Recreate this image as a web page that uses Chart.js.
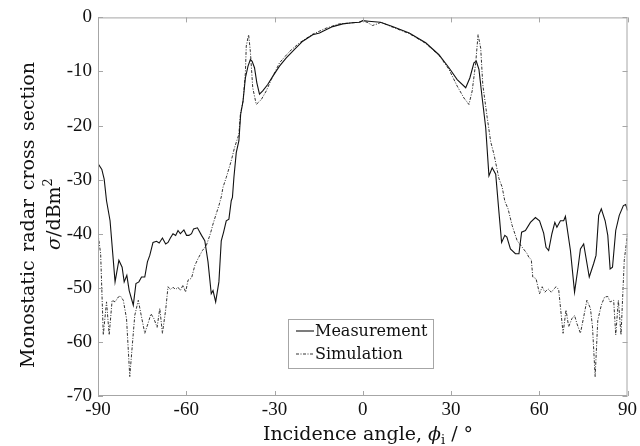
<!DOCTYPE html>
<html lang="en">
<head>
<meta charset="UTF-8" />
<title>Monostatic RCS</title>
<script src="https://cdn.jsdelivr.net/npm/chart.js"></script>
<style>
  body { margin: 0; background: #fff; }
  canvas { display: block; }
</style>
</head>
<body>
<canvas id="rcsChart" width="640" height="446"></canvas>
<script>
// angles in degrees, values in dBm^2
const measAngle = [-90, -88.7, -87.9, -87.1, -85.9, -84.2, -82.9, -81.8, -81.1, -80.2, -79.4, -78.0, -77.1, -76.1, -75.2, -74.1,
  -73.2, -72.4, -71.3, -70.1, -69.2, -68.1, -67.0, -66.2, -65.4, -64.5, -63.6, -62.8, -62.0, -60.8, -59.9, -59.1,
  -58.2, -57.5, -56.2, -54.8, -53.7, -52.6, -51.5, -50.9, -50.0, -48.9, -48.1, -47.3, -46.4, -45.5, -44.7, -44.3,
  -43.8, -43.0, -42.1, -41.5, -40.7, -39.9, -39.0, -38.2, -37.6, -36.8, -36.0, -35.1, -34.0, -32.3, -30.6, -28.3,
  -26.0, -23.2, -20.4, -17.0, -14.7, -12.5, -10.2, -6.8, -3.5, -1.2, 0, 2, 4, 6,
  10.1, 15.8, 21.4, 25.9, 29.3, 32.1, 35.0, 36.4, 37.8, 38.6, 39.5, 40.6, 41.8, 42.9, 44.0, 45.2,
  46.3, 47.2, 48.3, 49.0, 50.2, 51.9, 53.1, 54.0, 55.3, 57.0, 58.7, 60.1, 61.5, 62.3, 63.2, 64.3,
  65.3, 66.0, 67.2, 68.3, 68.9, 70.6, 72.0, 73.2, 74.0, 75.1, 77.0, 78.5, 79.3, 80.2, 81.1, 82.4,
  83.3, 84.1, 84.9, 86.0, 87.2, 88.6, 89.4, 90];
const measValue = [-27.0, -28.1, -29.9, -33.9, -37.6, -48.9, -44.9, -46.2, -48.9, -47.7, -50.5, -53.2, -49.2, -48.9, -48.0, -48.0,
  -45.2, -44.0, -41.6, -41.4, -41.7, -40.8, -41.9, -41.6, -40.8, -40.0, -40.3, -39.4, -40.0, -39.3, -40.3, -40.3,
  -40.0, -39.1, -38.9, -40.3, -41.3, -45.2, -51.1, -50.5, -52.6, -48.9, -41.3, -39.7, -37.6, -37.3, -33.9, -33.3,
  -29.6, -25.0, -22.8, -17.9, -15.5, -11.2, -9.0, -7.8, -8.1, -9.3, -12.1, -14.2, -13.6, -12.4, -10.9, -9.0,
  -7.5, -5.9, -4.4, -3.2, -2.9, -2.3, -1.7, -1.2, -1.0, -0.9, -0.6, -0.7, -0.8, -0.9,
  -1.7, -2.9, -4.7, -6.9, -9.3, -11.5, -13.0, -11.2, -8.4, -8.1, -9.6, -14.9, -20.4, -29.3, -27.8, -29.0,
  -36.0, -41.6, -40.3, -40.6, -42.8, -43.7, -43.7, -39.7, -39.4, -37.9, -37.0, -37.6, -39.9, -42.5, -43.1, -40.0,
  -37.9, -38.8, -37.6, -37.6, -36.8, -43.1, -50.8, -46.2, -42.8, -41.9, -48.0, -45.5, -44.0, -36.6, -35.4, -37.6,
  -40.3, -46.5, -46.2, -39.4, -36.6, -34.8, -34.6, -35.7];

const simAngle = [-90, -89.1, -88.2, -87.1, -86.2, -85.2, -84.2, -83.1, -82.4, -81.4, -80.3, -79.2, -78.2, -77.5, -76.3, -75.2,
  -74.1, -73.0, -72.0, -71.0, -69.9, -69.0, -68.1, -67.0, -66.2, -65.4, -64.5, -63.6, -62.8, -62.0, -61.1, -60.2,
  -59.4, -58.2, -57.1, -56.0, -54.5, -53.2, -51.8, -50.9, -49.8, -48.9, -48.1, -47.5, -46.4, -44.7, -43.6, -42.1,
  -41.6, -40.7, -39.9, -39.6, -38.8, -38.2, -37.4, -36.2, -34.5, -32.8, -31.1, -28.3, -24.9, -21.5, -17.0, -12.5,
  -8.0, -1.2, 0, 1.5, 3.3, 5, 6.2, 10.1, 15.8, 21.4, 25.9, 29.3, 32.1, 34.4, 36.1, 37.2,
  38.4, 39.2, 40.1, 40.8, 42.3, 43.5, 44.6, 46.3, 47.4, 48.3, 49.4, 50.8, 52.5, 54.2, 55.9, 56.4,
  57.3, 57.8, 58.9, 60.1, 61.0, 61.9, 63.0, 64.1, 65.7, 66.6, 68.1, 69.1, 70.0, 71.1, 72.0, 72.8,
  74.0, 75.1, 76.2, 77.4, 78.1, 79.0, 79.9, 81.1, 82.2, 83.3, 84.1, 85.3, 86.0, 86.9, 87.8, 88.9, 90];
const simValue = [-40.0, -43.7, -58.7, -52.6, -58.7, -52.3, -52.6, -51.7, -51.5, -52.3, -55.7, -66.4, -59.7, -55.1, -52.3, -55.4,
  -58.4, -56.6, -54.8, -55.7, -57.3, -53.8, -58.4, -54.1, -49.8, -50.3, -49.9, -50.3, -49.9, -50.5, -49.5, -50.8,
  -48.6, -48.2, -45.9, -44.6, -43.1, -42.2, -40.0, -38.2, -36.3, -34.8, -33.2, -31.4, -29.6, -26.5, -24.1, -21.6,
  -17.9, -15.5, -10.3, -5.3, -3.2, -6.3, -13.0, -16.1, -15.2, -13.6, -11.5, -8.4, -6.3, -4.7, -3.1, -2.0,
  -1.2, -0.9, -0.7, -0.9, -1.5, -1.2, -0.9, -1.8, -3.0, -4.8, -7.0, -9.6, -12.7, -14.9, -16.1, -13.6,
  -8.4, -3.2, -5.7, -12.4, -18.5, -23.0, -25.3, -29.8, -31.4, -34.0, -35.4, -38.5, -41.3, -42.5, -43.7, -44.3,
  -44.8, -48.0, -48.3, -51.1, -49.8, -50.8, -50.2, -50.8, -49.8, -50.3, -58.4, -54.1, -57.2, -55.7, -55.1, -56.6,
  -58.4, -55.4, -52.3, -53.8, -57.2, -66.4, -56.0, -53.2, -51.7, -51.6, -52.6, -52.3, -58.7, -52.3, -58.7, -44.9, -40.0];

const xTicks = [-90, -60, -30, 0, 30, 60, 90];
const yTicks = [-70, -60, -50, -40, -30, -20, -10, 0];
const seriesNames = ['Measurement', 'Simulation'];

const SERIF = '"Liberation Serif", "DejaVu Serif", serif';
const WIDE = '"DejaVu Serif", serif';

function toPoints(xs, ys) {
    return xs.map((x, i) => ({ x: x, y: ys[i] }));
}

// box, inward ticks, legend and the axis titles
const decorPlugin = {
    id: 'decor',
    afterDraw(chart) {
        const ctx = chart.ctx;
        const area = chart.chartArea;
        const xs = chart.scales.x;
        const ys = chart.scales.y;
        ctx.save();

        ctx.strokeStyle = '#a6a6a6';
        ctx.lineWidth = 1;
        ctx.strokeRect(area.left + 0.5, area.top + 0.5, area.right - area.left - 1, area.bottom - area.top - 1);

        ctx.beginPath();
        xTicks.forEach(v => {
            const px = Math.round(xs.getPixelForValue(v)) + 0.5;
            ctx.moveTo(px, area.bottom); ctx.lineTo(px, area.bottom - 5);
            ctx.moveTo(px, area.top); ctx.lineTo(px, area.top + 5);
        });
        yTicks.forEach(v => {
            const py = Math.round(ys.getPixelForValue(v)) + 0.5;
            ctx.moveTo(area.left, py); ctx.lineTo(area.left + 5, py);
            ctx.moveTo(area.right, py); ctx.lineTo(area.right - 5, py);
        });
        ctx.stroke();

        // legend
        const lx = 288, ly = 319, lw = 145, lh = 49;
        ctx.fillStyle = '#fff';
        ctx.fillRect(lx, ly, lw, lh);
        ctx.strokeStyle = '#a6a6a6';
        ctx.strokeRect(lx + 0.5, ly + 0.5, lw, lh);
        ctx.font = '16px ' + WIDE;
        ctx.textBaseline = 'middle';
        ctx.textAlign = 'left';
        chart.data.datasets.forEach((ds, i) => {
            const rowY = ly + 12 + i * 23;
            ctx.strokeStyle = ds.borderColor;
            ctx.lineWidth = ds.borderWidth;
            ctx.setLineDash(ds.borderDash || []);
            ctx.beginPath();
            ctx.moveTo(lx + 8, rowY);
            ctx.lineTo(lx + 26, rowY);
            ctx.stroke();
            ctx.setLineDash([]);
            ctx.fillStyle = '#111';
            ctx.fillText(ds.label, lx + 27, rowY + 1);
        });

        // x title
        ctx.fillStyle = '#111';
        ctx.textBaseline = 'alphabetic';
        const partA = 'Incidence angle, ';
        const partB = 'ϕ';
        const partC = 'i';
        const partD = ' / °';
        const fN = '19px ' + WIDE, fI = 'italic 19px ' + WIDE, fS = '13px ' + WIDE;
        ctx.font = fN; const wA = ctx.measureText(partA).width, wD = ctx.measureText(partD).width;
        ctx.font = fI; const wB = ctx.measureText(partB).width;
        ctx.font = fS; const wC = ctx.measureText(partC).width;
        let tx = 368 - (wA + wB + wC + wD) / 2;
        const base = 440;
        ctx.font = fN; ctx.fillText(partA, tx, base); tx += wA;
        ctx.font = fI; ctx.fillText(partB, tx, base); tx += wB;
        ctx.font = fS; ctx.fillText(partC, tx, base + 4); tx += wC;
        ctx.font = fN; ctx.fillText(partD, tx, base);

        // y title, first line with wide word gaps
        ctx.rotate(-Math.PI / 2);
        ctx.font = '19px ' + WIDE;
        ctx.textBaseline = 'alphabetic';
        const words = ['Monostatic', 'radar', 'cross', 'section'];
        const span0 = -368, span1 = -62;
        const widths = words.map(w => ctx.measureText(w).width);
        const gap = ((span1 - span0) - widths.reduce((a, b) => a + b, 0)) / (words.length - 1);
        let wx = span0;
        words.forEach((w, i) => { ctx.fillText(w, wx, 34); wx += widths[i] + gap; });

        // second line: sigma / dBm^2
        const s1 = 'σ', s2 = '/dBm', s3 = '2';
        ctx.font = 'italic 19px ' + WIDE; const w1 = ctx.measureText(s1).width;
        ctx.font = '19px ' + WIDE; const w2 = ctx.measureText(s2).width;
        ctx.font = '13px ' + WIDE; const w3 = ctx.measureText(s3).width;
        let sx = -214 - (w1 + w2 + w3) / 2;
        ctx.font = 'italic 19px ' + WIDE; ctx.fillText(s1, sx, 60); sx += w1;
        ctx.font = '19px ' + WIDE; ctx.fillText(s2, sx, 60); sx += w2;
        ctx.font = '13px ' + WIDE; ctx.fillText(s3, sx, 52);

        ctx.restore();
    }
};

new Chart(document.getElementById('rcsChart').getContext('2d'), {
    type: 'line',
    data: {
        datasets: [{
            label: seriesNames[0],
            data: toPoints(measAngle, measValue),
            borderColor: '#111',
            borderWidth: 1.1,
            pointRadius: 0,
            tension: 0,
            fill: false
        }, {
            label: seriesNames[1],
            data: toPoints(simAngle, simValue),
            borderColor: '#333',
            borderWidth: 1,
            borderDash: [3, 1.5, 1, 1.5],
            pointRadius: 0,
            tension: 0,
            fill: false
        }]
    },
    options: {
        responsive: false,
        animation: false,
        layout: { padding: { top: 16, right: 11, left: 0, bottom: 0 } },
        scales: {
            x: {
                type: 'linear',
                min: -90,
                max: 90,
                afterBuildTicks: s => { s.ticks = xTicks.map(v => ({ value: v })); },
                afterFit: s => { s.height = 50; },
                grid: { display: false, drawTicks: false },
                border: { display: false },
                ticks: {
                    color: '#111',
                    padding: 3,
                    maxRotation: 0,
                    font: { family: SERIF, size: 19 }
                }
            },
            y: {
                min: -70,
                max: 0,
                afterBuildTicks: s => { s.ticks = yTicks.map(v => ({ value: v })); },
                afterFit: s => { s.width = 98; },
                grid: { display: false, drawTicks: false },
                border: { display: false },
                ticks: {
                    color: '#111',
                    padding: 6,
                    font: { family: SERIF, size: 19 }
                }
            }
        },
        plugins: {
            legend: { display: false },
            tooltip: { enabled: false }
        }
    },
    plugins: [decorPlugin]
});
</script>
</body>
</html>
